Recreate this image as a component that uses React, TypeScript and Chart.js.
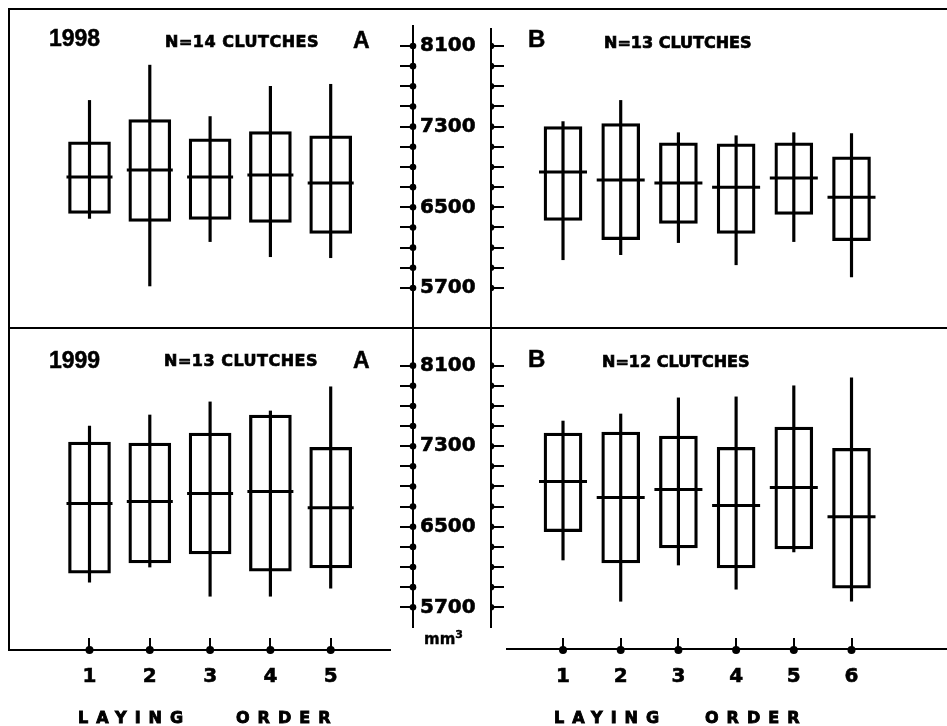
import React, { useEffect, useRef } from 'react';
import { Chart, registerables } from 'chart.js';

Chart.register(...registerables);

// ---------- data ----------
const yTickValues = [5700, 5900, 6100, 6300, 6500, 6700, 6900, 7100, 7300, 7500, 7700, 7900, 8100];
const yLabelValues = [5700, 6500, 7300, 8100];
const ordersA = [1, 2, 3, 4, 5];
const ordersB = [1, 2, 3, 4, 5, 6];

// 1998, A eggs (N=14 clutches)
const a98BoxHigh = [7150, 7370, 7180, 7250, 7210];
const a98BoxLow = [6440, 6360, 6380, 6350, 6240];
const a98Median = [6800, 6870, 6800, 6820, 6740];
const a98Max = [7560, 7910, 7400, 7700, 7720];
const a98Min = [6390, 5720, 6160, 6010, 6000];

// 1998, B eggs (N=13 clutches)
const b98BoxHigh = [7300, 7330, 7140, 7130, 7140, 7000];
const b98BoxLow = [6370, 6180, 6340, 6240, 6430, 6170];
const b98Median = [6850, 6770, 6740, 6700, 6790, 6600];
const b98Max = [7350, 7560, 7240, 7210, 7240, 7230];
const b98Min = [5980, 6030, 6150, 5930, 6160, 5810];

// 1999, A eggs (N=13 clutches)
const a99BoxHigh = [7340, 7330, 7430, 7610, 7290];
const a99BoxLow = [6040, 6140, 6230, 6060, 6090];
const a99Median = [6730, 6750, 6830, 6850, 6690];
const a99Max = [7500, 7610, 7740, 7650, 7890];
const a99Min = [5950, 6100, 5810, 5810, 5890];

// 1999, B eggs (N=12 clutches)
const b99BoxHigh = [7430, 7440, 7400, 7290, 7490, 7280];
const b99BoxLow = [6450, 6140, 6290, 6090, 6280, 5890];
const b99Median = [6950, 6790, 6870, 6710, 6890, 6600];
const b99Max = [7550, 7620, 7780, 7790, 7900, 7980];
const b99Min = [6170, 5760, 6120, 5880, 6250, 5760];

// ---------- layout ----------
const FONT = "'DejaVu Sans', sans-serif";
const FONT2 = "'Liberation Sans', Arial, sans-serif";

const panels = [
  { key: 'a98', left: 9, top: 8, width: 481, height: 320, padTop: 17, side: 'A', cats: ordersA,
    xMin: -0.335, xMax: 6.365, yMin: 5303, yMax: 8308, showX: false,
    boxLow: a98BoxLow, boxHigh: a98BoxHigh, median: a98Median, lo: a98Min, hi: a98Max },
  { key: 'b98', left: 490, top: 8, width: 457, height: 320, padTop: 17, side: 'B', cats: ordersB,
    xMin: -0.248, xMax: 7.655, yMin: 5303, yMax: 8308, showX: false,
    boxLow: b98BoxLow, boxHigh: b98BoxHigh, median: b98Median, lo: b98Min, hi: b98Max },
  { key: 'a99', left: 9, top: 328, width: 481, height: 398, padTop: 0, side: 'A', cats: ordersA,
    xMin: -0.335, xMax: 6.365, yMin: 5276, yMax: 8474, showX: true,
    boxLow: a99BoxLow, boxHigh: a99BoxHigh, median: a99Median, lo: a99Min, hi: a99Max },
  { key: 'b99', left: 490, top: 328, width: 457, height: 398, padTop: 0, side: 'B', cats: ordersB,
    xMin: -0.248, xMax: 7.655, yMin: 5276, yMax: 8474, showX: true,
    boxLow: b99BoxLow, boxHigh: b99BoxHigh, median: b99Median, lo: b99Min, hi: b99Max },
];

const tickDots = {
  id: 'tickDots',
  afterDraw(chart: any) {
    const ctx = chart.ctx;
    ctx.save();
    ctx.fillStyle = '#000';
    const ys = chart.scales.y;
    const ax = ys.options.position === 'right' ? ys.left : ys.right;
    ys.ticks.forEach((t: any) => {
      const py = ys.getPixelForValue(t.value);
      ctx.beginPath();
      ctx.arc(ax, py, 3.3, 0, Math.PI * 2);
      ctx.fill();
    });
    const xs = chart.scales.x;
    if (xs.options.display) {
      xs.ticks.forEach((t: any) => {
        const px = xs.getPixelForValue(t.value);
        ctx.beginPath();
        ctx.arc(px, xs.top, 4, 0, Math.PI * 2);
        ctx.fill();
      });
    }
    ctx.restore();
  },
};

function makeConfig(p: any): any {
  const isA = p.side === 'A';
  const whiskers = p.cats.map((c: number, i: number) => ({ x: c, y: [p.lo[i], p.hi[i]] }));
  const boxes = p.cats.map((c: number, i: number) => ({ x: c, y: [p.boxLow[i], p.boxHigh[i]] }));
  const medians = p.cats.map((c: number, i: number) => ({ x: c, y: p.median[i] }));
  return {
    type: 'bar',
    data: {
      datasets: [
        { type: 'bar', data: whiskers, backgroundColor: '#000', borderWidth: 0, barThickness: 2.5, grouped: false },
        { type: 'bar', data: boxes, backgroundColor: 'rgba(0,0,0,0)', borderColor: '#000', borderWidth: 2.6,
          borderSkipped: false, barThickness: isA ? 42 : 38, grouped: false },
        { type: 'line', data: medians, showLine: false, pointStyle: 'line', pointRadius: isA ? 23 : 24,
          pointBorderWidth: 3, pointBorderColor: '#000', pointBackgroundColor: '#000', clip: false },
      ],
    },
    options: {
      responsive: false,
      maintainAspectRatio: false,
      devicePixelRatio: 1,
      animation: false,
      events: [],
      layout: { autoPadding: false, padding: { top: p.padTop, left: 0, right: 0, bottom: 0 } },
      plugins: { legend: { display: false }, tooltip: { enabled: false }, title: { display: false } },
      scales: {
        x: {
          type: 'linear',
          min: p.xMin,
          max: p.xMax,
          offset: false,
          display: p.showX,
          position: 'bottom',
          afterBuildTicks: (s: any) => { s.ticks = p.cats.map((v: number) => ({ value: v })); },
          afterFit: (s: any) => { s.height = p.showX ? 76 : 0; s.paddingLeft = 0; s.paddingRight = 0; },
          border: { display: false },
          grid: { display: true, offset: false, drawOnChartArea: false, drawTicks: true, tickLength: -12, color: '#000', lineWidth: 2 },
          ticks: { autoSkip: false, maxRotation: 0, padding: 27, color: '#000', textStrokeColor: '#000', textStrokeWidth: 0.6,
            font: { family: FONT, weight: 'bold', size: 20 }, callback: (v: any) => String(v) },
        },
        y: {
          type: 'linear',
          min: p.yMin,
          max: p.yMax,
          position: isA ? 'right' : 'left',
          afterBuildTicks: (s: any) => { s.ticks = yTickValues.map((v) => ({ value: v })); },
          afterFit: (s: any) => { s.width = isA ? 77 : 1; s.paddingTop = 0; s.paddingBottom = 0; },
          border: { display: false },
          grid: { display: true, drawOnChartArea: false, drawTicks: true, tickLength: -13, color: '#000', lineWidth: 2 },
          ticks: { display: isA, autoSkip: false, padding: 20, color: '#000', textStrokeColor: '#000', textStrokeWidth: 0.6,
            font: { family: FONT, weight: 'bold', size: 20 },
            callback: (v: any) => (yLabelValues.includes(Number(v)) ? String(v) : '') },
        },
      },
    },
    plugins: [tickDots],
  };
}

function PanelChart({ p }: { p: any }) {
  const ref = useRef<HTMLCanvasElement | null>(null);
  useEffect(() => {
    if (!ref.current) return;
    const chart = new Chart(ref.current, makeConfig(p));
    return () => chart.destroy();
  }, [p]);
  return (
    <canvas
      ref={ref}
      width={p.width}
      height={p.height}
      style={{ position: 'absolute', left: p.left, top: p.top, width: p.width, height: p.height }}
    />
  );
}

function Line({ l, t, w, h }: { l: number; t: number; w: number; h: number }) {
  return <div style={{ position: 'absolute', left: l, top: t, width: w, height: h, background: '#000' }} />;
}

function Txt({ x, cy, size, family, children, spacing, stroke }: any) {
  return (
    <div
      style={{
        position: 'absolute', left: x, top: cy, transform: 'translateY(-50%)', fontFamily: family,
        fontWeight: 'bold', fontSize: size, lineHeight: 1, whiteSpace: 'nowrap', color: '#000',
        letterSpacing: spacing || 0, WebkitTextStroke: `${stroke ?? 0.5}px #000`,
      }}
    >
      {children}
    </div>
  );
}

export default function App() {
  return (
    <div style={{ position: 'absolute', left: 0, top: 0, width: 947, height: 726, background: '#fff', overflow: 'hidden' }}>
      {panels.map((p) => (
        <PanelChart key={p.key} p={p} />
      ))}
      {/* frame */}
      <Line l={9} t={8} w={938} h={2} />
      <Line l={8} t={8} w={2} h={643} />
      <Line l={9} t={327} w={938} h={2} />
      <Line l={9} t={649} w={382} h={2} />
      <Line l={506} t={648} w={441} h={2} />
      {/* central axes */}
      <Line l={412} t={25} w={2} h={603} />
      <Line l={490} t={28} w={2} h={600} />

      {/* panel texts */}
      <Txt x={49} cy={38} size={23} family={FONT2}>1998</Txt>
      <Txt x={165} cy={42} size={16} family={FONT} spacing={0.5} stroke={0.7}>N=14 CLUTCHES</Txt>
      <Txt x={353} cy={40} size={23} family={FONT2}>A</Txt>
      <Txt x={528} cy={38.5} size={24} family={FONT2}>B</Txt>
      <Txt x={604} cy={43} size={16} family={FONT} spacing={0} stroke={0.7}>N=13 CLUTCHES</Txt>

      <Txt x={49} cy={359.5} size={23} family={FONT2}>1999</Txt>
      <Txt x={164} cy={361} size={16} family={FONT} spacing={0.5} stroke={0.7}>N=13 CLUTCHES</Txt>
      <Txt x={353} cy={360} size={23} family={FONT2}>A</Txt>
      <Txt x={528} cy={358.5} size={24} family={FONT2}>B</Txt>
      <Txt x={602} cy={362} size={16} family={FONT} spacing={0} stroke={0.7}>N=12 CLUTCHES</Txt>

      <div style={{ position: 'absolute', left: 424, top: 632, fontFamily: FONT, fontWeight: 'bold', fontSize: 15, lineHeight: 1, whiteSpace: 'nowrap', WebkitTextStroke: '0.4px #000' }}>
        mm<span style={{ fontSize: 11, position: 'relative', top: -6 }}>3</span>
      </div>

      <Txt x={78} cy={717.5} size={16} family={FONT} spacing={8} stroke={0.9}>LAYING</Txt>
      <Txt x={236} cy={717.5} size={16} family={FONT} spacing={8} stroke={0.9}>ORDER</Txt>
      <Txt x={554} cy={717.5} size={16} family={FONT} spacing={8} stroke={0.9}>LAYING</Txt>
      <Txt x={705} cy={717.5} size={16} family={FONT} spacing={8} stroke={0.9}>ORDER</Txt>
    </div>
  );
}
